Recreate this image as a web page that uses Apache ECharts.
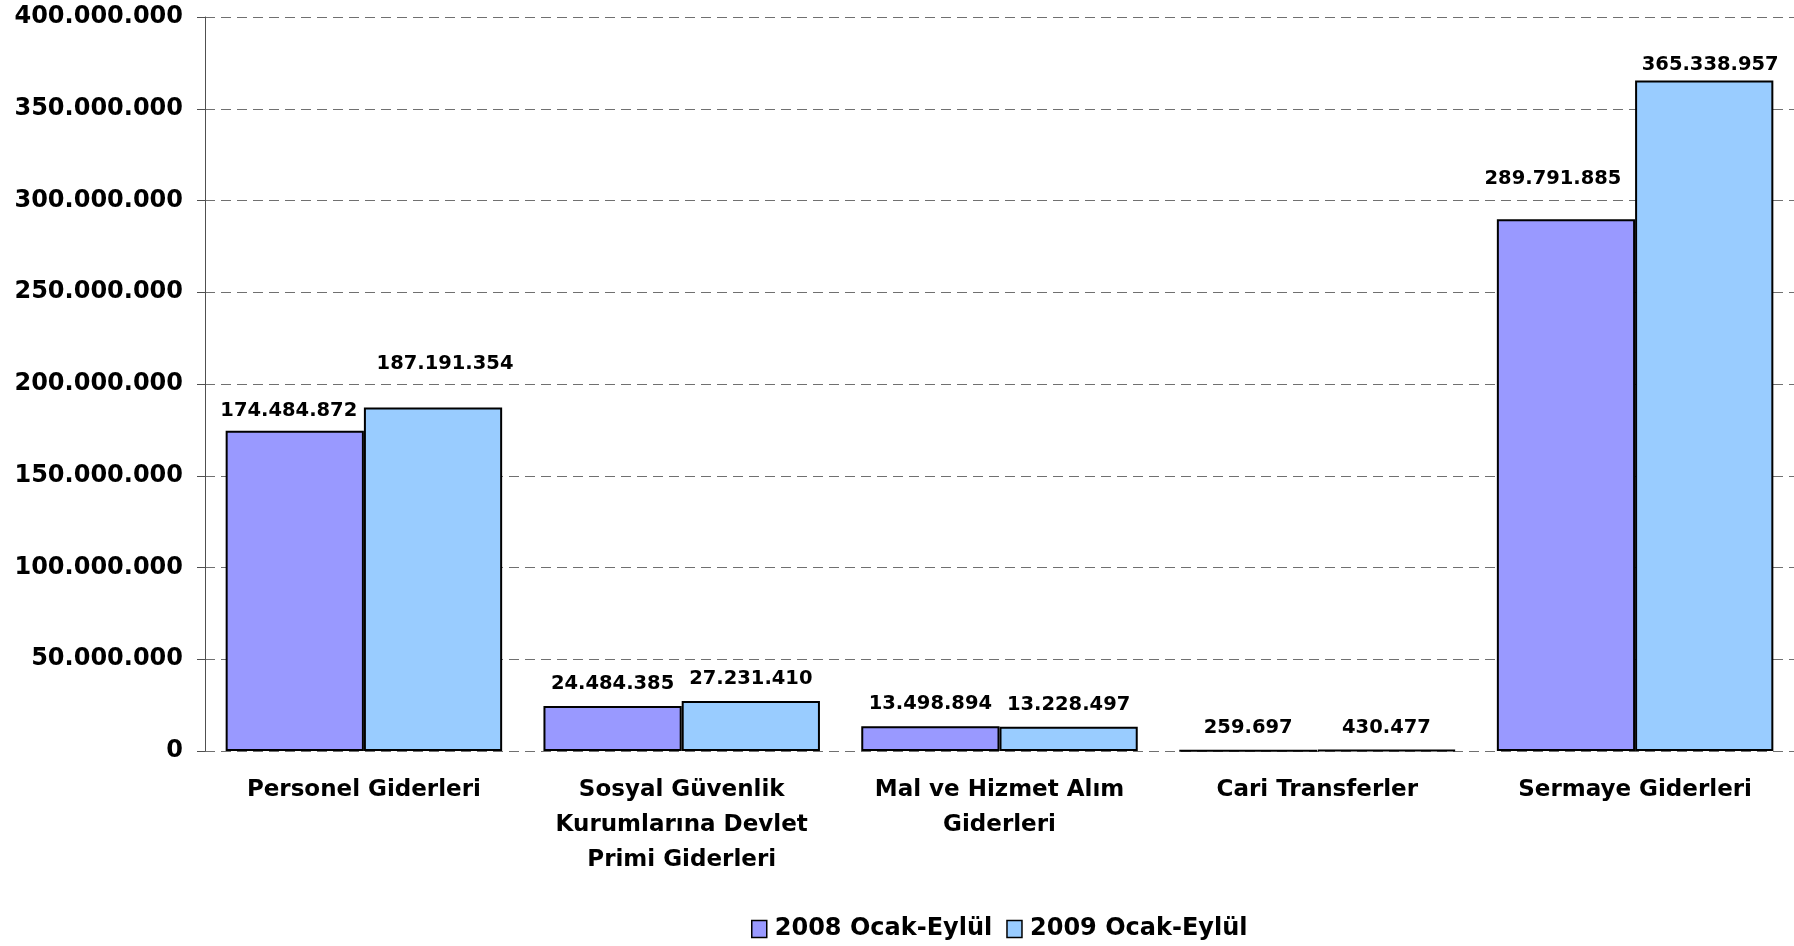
<!DOCTYPE html>
<html>
<head>
<meta charset="utf-8">
<script src="https://cdn.jsdelivr.net/npm/echarts@6/dist/echarts.min.js"></script>
<style>
html,body{margin:0;padding:0;background:#fff;}
#chart{width:1794px;height:946px;}
</style>
</head>
<body>
<div id="chart"></div>
<script>
var categories = [
  'Personel Giderleri',
  'Sosyal Güvenlik\nKurumlarına Devlet\nPrimi Giderleri',
  'Mal ve Hizmet Alım\nGiderleri',
  'Cari Transferler',
  'Sermaye Giderleri'
];
var seriesNames = ['2008 Ocak-Eylül', '2009 Ocak-Eylül'];
var values2008 = [174484872, 24484385, 13498894, 259697, 289791885];
var values2009 = [187191354, 27231410, 13228497, 430477, 365338957];
var yTicks = [0, 50000000, 100000000, 150000000, 200000000, 250000000, 300000000, 350000000, 400000000];

var FONT = '"DejaVu Sans", Verdana, sans-serif';
function fmt(v) {
  return String(Math.round(v)).replace(/\B(?=(\d{3})+(?!\d))/g, '.');
}
// label nudges (layout only), keyed by series index then data index
var labelOffsets = {
  0: {0: [-6, 2], 4: [-13, -18]},
  1: {0: [12, -22], 4: [6, 6]}
};
function buildData(vals, si) {
  return vals.map(function (v, i) {
    var o = labelOffsets[si] && labelOffsets[si][i];
    if (o) return {value: v, label: {offset: o}};
    return v;
  });
}
var colors = ['#9999FF', '#99CCFF'];
var chart = echarts.init(document.getElementById('chart'));
chart.setOption({
  animation: false,
  backgroundColor: '#ffffff',
  grid: {left: 205, right: 0, top: 17, bottom: 195, containLabel: false},
  legend: {
    data: seriesNames,
    left: 751,
    top: 917,
    padding: 0,
    itemWidth: 15,
    itemHeight: 17,
    itemGap: 14,
    icon: 'rect',
    itemStyle: {borderColor: '#000', borderWidth: 1.5},
    textStyle: {fontFamily: FONT, fontWeight: 'bold', fontSize: 24, color: '#000', padding: [0, 0, 0, 3]}
  },
  xAxis: {
    type: 'category',
    data: categories,
    axisLine: {show: false},
    axisTick: {show: false},
    axisLabel: {
      interval: 0,
      margin: 22,
      fontFamily: FONT, fontWeight: 'bold', fontSize: 23, color: '#000',
      lineHeight: 35, align: 'center'
    }
  },
  yAxis: {
    type: 'value',
    min: yTicks[0],
    max: yTicks[yTicks.length - 1],
    interval: yTicks[1] - yTicks[0],
    axisLine: {show: true, lineStyle: {color: '#505050', width: 1}},
    axisTick: {show: true, length: 8, lineStyle: {color: '#505050'}},
    splitLine: {show: true, lineStyle: {color: '#707070', type: [10, 6], width: 1}},
    axisLabel: {
      margin: 22,
      fontFamily: FONT, fontWeight: 'bold', fontSize: 24, color: '#000',
      formatter: function (v) { return fmt(v); }
    }
  },
  series: [values2008, values2009].map(function (vals, si) {
    return {
      name: seriesNames[si],
      type: 'bar',
      data: buildData(vals, si),
      barGap: '0%',
      barCategoryGap: '13%',
      itemStyle: {color: colors[si], borderColor: '#000', borderWidth: 2},
      label: {
        show: true,
        position: 'top',
        distance: 12,
        fontFamily: FONT, fontWeight: 'bold', fontSize: 19.5, color: '#000',
        formatter: function (p) { return fmt(p.value); }
      }
    };
  })
});
</script>
</body>
</html>
